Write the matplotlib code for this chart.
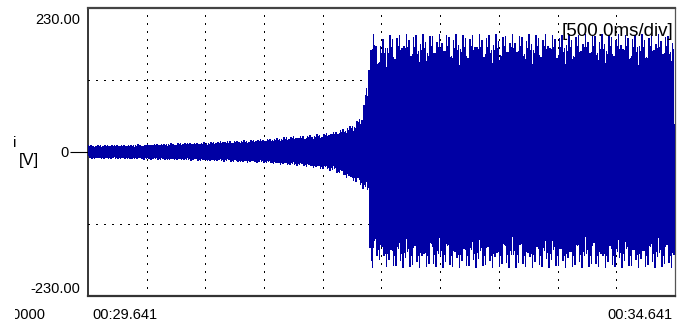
import numpy as np
import matplotlib
matplotlib.use("Agg")
import matplotlib.pyplot as plt
import matplotlib.transforms as mtransforms

# ---- recording window -------------------------------------------------------
T_START = 29.641          # s, left edge of the record
T_END = 34.641            # s, right edge of the record
V_RANGE = 230.0           # V, full-scale of the channel
MAINS_HZ = 49.85          # Hz, fundamental of the recorded voltage
SAMPLE_HZ = 234.8         # Hz, display rate of the decimated trace

# envelope of the recorded voltage (time relative to T_START, in s; amplitude in V)
env_t = [0.00, 0.40, 0.80, 1.20, 1.60, 1.90, 2.10, 2.25, 2.33, 2.385,
         2.402, 2.419, 2.445, 2.50, 2.56, 5.00]
env_pos = [9.5, 10.5, 13.0, 16.0, 21.0, 26.0, 31.0, 42.0, 55.0, 115.0,
           168.0, 206.0, 172.0, 178.0, 187.0, 187.0]
env_neg = [9.5, 10.5, 12.0, 14.0, 18.0, 23.0, 30.0, 44.0, 55.0, 66.0,
           152.0, 200.0, 165.0, 176.0, 184.0, 184.0]

y_tick_labels = ["230.00", "0", "-230.00"]
x_tick_labels = ["00:29.641", "00:34.641"]
time_base = "[500.0ms/div]"
DIV_S = 0.5

# ---- style ------------------------------------------------------------------
plt.rcParams["path.simplify"] = False
plt.rcParams["font.family"] = ["Liberation Sans", "DejaVu Sans"]
TRACE = "#0000A4"

W, H, DPI = 683, 333, 100
fig = plt.figure(figsize=(W / DPI, H / DPI), dpi=DPI)
ax = fig.add_axes([88 / W, (H - 296) / H, (675 - 88) / W, (296 - 8) / H])

# ---- waveform ---------------------------------------------------------------
t = T_START + np.arange(0, T_END - T_START, 1.0 / SAMPLE_HZ)
rel = t - T_START
amp_pos = np.interp(rel, env_t, env_pos)
amp_neg = np.interp(rel, env_t, env_neg)
carrier = np.sin(2 * np.pi * MAINS_HZ * rel)
v = np.where(carrier >= 0, amp_pos * carrier, amp_neg * carrier)

ax.plot(t, v, color=TRACE, lw=0.62, antialiased=False, zorder=3)

ax.set_xlim(T_START, T_END)
ax.set_ylim(-V_RANGE, V_RANGE)

# ---- dotted division grid ---------------------------------------------------
grid_kw = dict(color="black", lw=0.9, ls=(0, (1, 5)), zorder=1, antialiased=False)
for k in range(1, int(round((T_END - T_START) / DIV_S))):
    ax.axvline(T_START + k * DIV_S, **grid_kw)
for yv in (-V_RANGE / 2, V_RANGE / 2):
    ax.axhline(yv, **grid_kw)

# ---- frame ------------------------------------------------------------------
ax.spines["left"].set(color="black", lw=1.1)
ax.spines["right"].set(color="#555555", lw=0.9)
ax.spines["top"].set(color="#444444", lw=1.6)
ax.spines["bottom"].set(color="#333333", lw=1.6)

ax.set_xticks([])
ax.set_yticks([0])
ax.set_yticklabels([y_tick_labels[1]])
ax.tick_params(axis="y", length=18 * 0.72, width=0.8, pad=1,
               labelsize=10.5, color="black")

# full-scale labels sit just inside the range limits
ytr = ax.get_yaxis_transform()
ax.text(0, V_RANGE, y_tick_labels[0], ha="right", va="center", fontsize=10.5,
        transform=mtransforms.offset_copy(ytr, fig=fig, x=-8, y=-12, units="dots"))
ax.text(0, -V_RANGE, y_tick_labels[2], ha="right", va="center", fontsize=10.5,
        transform=mtransforms.offset_copy(ytr, fig=fig, x=-8, y=7, units="dots"))

# time labels under the frame
xtr = ax.get_xaxis_transform()
ax.text(T_START, 0, x_tick_labels[0], ha="left", va="center", fontsize=10.5,
        transform=mtransforms.offset_copy(xtr, fig=fig, x=4, y=-19, units="dots"))
ax.text(T_END, 0, x_tick_labels[1], ha="right", va="center", fontsize=10.5,
        transform=mtransforms.offset_copy(xtr, fig=fig, x=-2, y=-19, units="dots"))

# time base readout
ax.text(T_END, V_RANGE, time_base, ha="right", va="center", fontsize=13.5,
        zorder=5,
        transform=mtransforms.offset_copy(ax.transData, fig=fig, x=-2, y=-24,
                                          units="dots"))


def fig_px(x, y):
    return x / W, 1 - y / H


# channel name and unit
fig.text(*fig_px(15, 143), "i", ha="center", va="center", fontsize=11)
fig.text(*fig_px(29, 161), "[V]", ha="center", va="center", fontsize=12)

# start-time readout, partly hidden behind the left panel edge
start_txt = fig.text(*fig_px(45, 315), "00:00.0000", ha="right", va="center",
                     fontsize=10.5)
start_txt.set_clip_box(mtransforms.Bbox.from_extents(15, 0, W, H))
start_txt.set_clip_on(True)

fig.savefig("out.png", dpi=DPI)
